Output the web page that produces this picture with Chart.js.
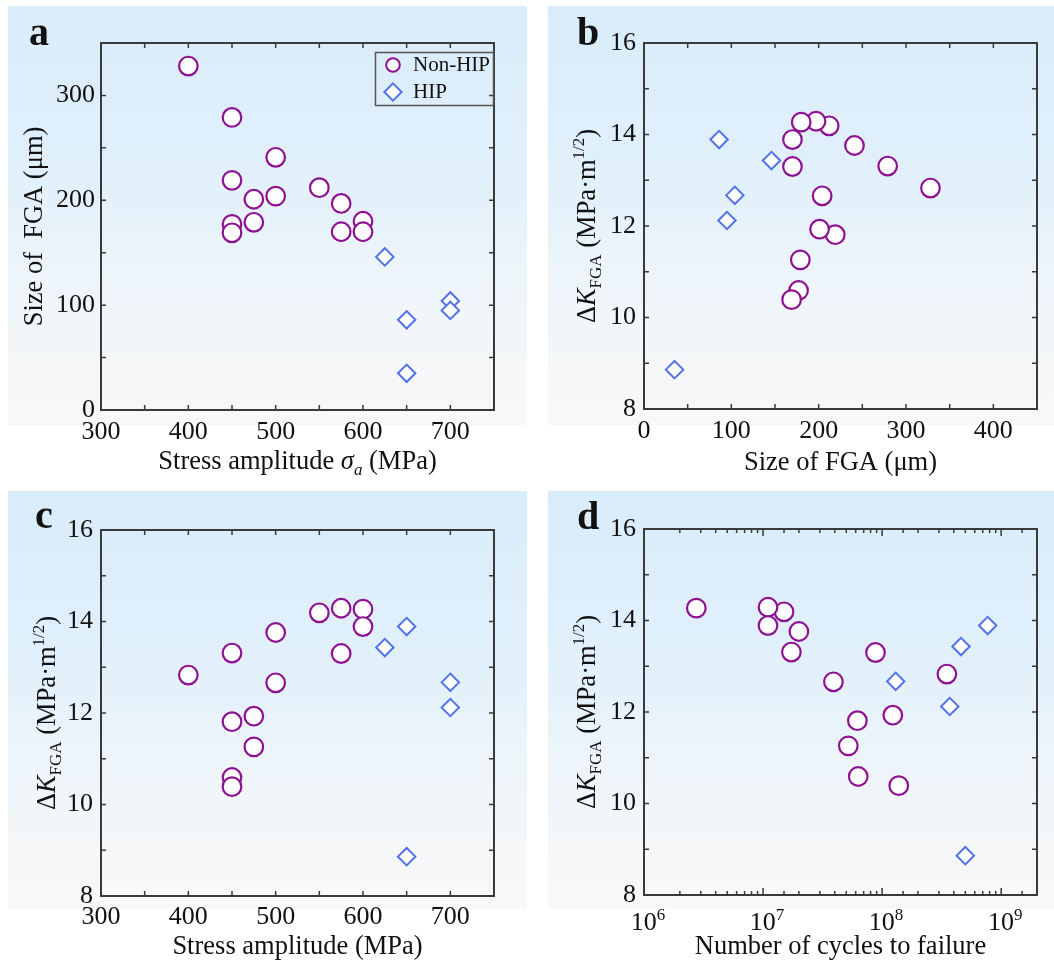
<!DOCTYPE html>
<html>
<head>
<meta charset="utf-8">
<script src="https://cdn.jsdelivr.net/npm/chart.js@4.4.1/dist/chart.umd.min.js"></script>
<style>
body{margin:0;background:#fff;width:1054px;height:962px;position:relative;overflow:hidden}
.bg{position:absolute;background:linear-gradient(#d9ecf9 0%,#e1f0fb 40%,#edf5fa 65%,#f6f7f8 88%,#f8f8f8 100%)}
canvas{position:absolute}
</style>
</head>
<body>
<div class="bg" style="left:8px;top:6px;width:519px;height:419px"></div>
<div class="bg" style="left:548px;top:6px;width:506px;height:419px"></div>
<div class="bg" style="left:8px;top:491px;width:519px;height:418px"></div>
<div class="bg" style="left:548px;top:491px;width:506px;height:418px"></div>
<canvas id="chartA" width="527" height="481" style="left:0;top:0"></canvas>
<canvas id="chartB" width="527" height="481" style="left:527px;top:0"></canvas>
<canvas id="chartC" width="527" height="481" style="left:0;top:481px"></canvas>
<canvas id="chartD" width="527" height="481" style="left:527px;top:481px"></canvas>
<script>
// Non-HIP specimens, same order in every array
const nonHipStress = [400,450,500,450,550,475,500,575,450,475,600,450,575,600];
const nonHipSize   = [328,279,241,219,212,201,204,197,177,179,180,169,170,170];
const nonHipDK     = [12.83,13.31,13.76,11.81,14.19,11.93,12.66,14.29,10.59,11.26,14.27,10.39,13.30,13.89];
const nonHipCycles = [3.5e8,1.73e7,2.0e7,6.2e7,1.5e7,1.23e8,3.9e7,1.1e7,6.3e7,5.2e7,2.75e6,1.38e8,8.8e7,1.1e7];
// HIP specimens
const hipStress = [625,650,650,700,700];
const hipSize   = [146,86,35,104,95];
const hipDK     = [13.43,13.89,8.86,12.67,12.12];
const hipCycles = [4.6e8,7.7e8,5.0e8,1.3e8,3.7e8];
// tick labels
const stressTicks = [300,400,500,600,700];
const sizeTicksA = [0,100,200,300];
const sizeTicksB = [0,100,200,300,400];
const dkTicks = [8,10,12,14,16];
const cycleTicks = [1e6,1e7,1e8,1e9];

const FONT = "'Liberation Serif','Times New Roman',serif";
const PURPLE = '#8e1191';
const BLUE = '#5272e8';
const INK = '#111';
Chart.defaults.font.family = FONT;
Chart.defaults.font.size = 26;
Chart.defaults.color = INK;

const dkTitle = [{t:'\u0394'},{t:'K',i:1},{t:'FGA',sub:1},{t:' (MPa\u00b7m'},{t:'1/2',sup:1},{t:')'}];

function pts(xs, ys){ return xs.map((x,k)=>({x:x,y:ys[k]})); }

function drawRich(ctx, segs, size, x, y, rotate){
  const fontOf = s => (s.i?'italic ':'') + ((s.sub||s.sup)?Math.round(size*0.64):size) + 'px ' + FONT;
  let w = 0;
  segs.forEach(s=>{ ctx.font = fontOf(s); s.w = ctx.measureText(s.t).width; w += s.w; });
  ctx.save();
  ctx.translate(x,y);
  if(rotate) ctx.rotate(-Math.PI/2);
  ctx.textAlign = 'left';
  ctx.textBaseline = 'alphabetic';
  ctx.fillStyle = INK;
  let cx = -w/2;
  segs.forEach(s=>{
    ctx.font = fontOf(s);
    const dy = s.sub ? size*0.24 : (s.sup ? -size*0.4 : 0);
    ctx.fillText(s.t, cx, dy);
    cx += s.w;
  });
  ctx.restore();
}

// frame, inward ticks on all four sides, titles, panel letter
function decor(cfg){
  return {
    id:'decor',
    beforeDatasetsDraw(chart){
      const ctx = chart.ctx, a = chart.chartArea;
      ctx.save();
      ctx.strokeStyle = '#3a3a3a';
      ctx.lineWidth = 1.5;
      const xs = chart.scales.x, ys = chart.scales.y;
      xs.ticks.forEach(t=>{
        const p = xs.getPixelForValue(t.value);
        if(p <= a.left+1 || p >= a.right-1) return;
        const len = t.label !== '' ? cfg.major : cfg.minor;
        ctx.beginPath();
        ctx.moveTo(p, a.bottom); ctx.lineTo(p, a.bottom-len);
        ctx.moveTo(p, a.top); ctx.lineTo(p, a.top+len);
        ctx.stroke();
      });
      ys.ticks.forEach(t=>{
        const p = ys.getPixelForValue(t.value);
        if(p <= a.top+1 || p >= a.bottom-1) return;
        ctx.beginPath();
        ctx.moveTo(a.left, p); ctx.lineTo(a.left+5, p);
        ctx.moveTo(a.right, p); ctx.lineTo(a.right-5, p);
        ctx.stroke();
      });
      ctx.lineWidth = 2;
      ctx.strokeRect(a.left, a.top, a.width, a.height);
      ctx.restore();
    },
    afterDraw(chart){
      const ctx = chart.ctx, a = chart.chartArea;
      if(cfg.powerLabels){
        // decade labels 10^n with a real superscript
        const xs = chart.scales.x;
        xs.ticks.forEach(t=>{
          if(t.label === '') return;
          const n = String(Math.round(Math.log10(t.value)));
          drawRich(ctx, [{t:'10'},{t:n,sup:1}], 26, xs.getPixelForValue(t.value)+4, cfg.powerBase, false);
        });
      }
      drawRich(ctx, cfg.xTitle, 26.5, (a.left+a.right)/2, cfg.xBase, false);
      drawRich(ctx, cfg.yTitle, 26.5, cfg.yBase, (a.top+a.bottom)/2, true);
      ctx.save();
      ctx.font = 'bold 40px ' + FONT;
      ctx.fillStyle = INK;
      ctx.fillText(cfg.letter, cfg.lx, cfg.ly);
      ctx.restore();
      if(cfg.legend){
        ctx.save();
        ctx.strokeStyle = '#555';
        ctx.lineWidth = 1.5;
        ctx.strokeRect(375.5, 52.5, 118, 53);
        ctx.lineWidth = 2;
        ctx.fillStyle = '#fff';
        ctx.strokeStyle = PURPLE;
        Chart.helpers.drawPoint(ctx, {pointStyle:'circle', radius:6.8, borderWidth:2}, 393, 65);
        ctx.fillStyle = '#fff';
        ctx.strokeStyle = BLUE;
        Chart.helpers.drawPoint(ctx, {pointStyle:'rectRot', radius:8.6, borderWidth:2}, 393, 92);
        ctx.fillStyle = INK;
        ctx.font = '21px ' + FONT;
        ctx.fillText('Non-HIP', 413, 71);
        ctx.fillText('HIP', 413, 98);
        ctx.restore();
      }
    }
  };
}

function makeChart(id, o){
  const W = 527, H = 481;
  new Chart(document.getElementById(id), {
    type:'scatter',
    data:{datasets:[
      {label:'Non-HIP', data:o.nonHip, pointStyle:'circle', pointRadius:9.3, pointHoverRadius:9.3,
       borderWidth:2.2, borderColor:PURPLE, backgroundColor:'#fff'},
      {label:'HIP', data:o.hip, pointStyle:'rectRot', pointRadius:8.7, pointHoverRadius:8.7,
       borderWidth:2, borderColor:BLUE, backgroundColor:'#fff'}
    ]},
    options:{
      responsive:false,
      animation:false,
      events:[],
      layout:{padding:{left:0, top:o.area[1], right:W-o.area[2], bottom:0}},
      plugins:{legend:{display:false}, tooltip:{enabled:false}},
      scales:{
        x:Object.assign({
          grid:{display:false, drawTicks:false},
          border:{display:false},
          afterFit(s){ s.height = H - o.area[3]; }
        }, o.x),
        y:Object.assign({
          grid:{display:false, drawTicks:false},
          border:{display:false},
          afterFit(s){ s.width = o.area[0]; }
        }, o.y)
      }
    },
    plugins:[decor(o.decor)]
  });
}

function linTicks(step, labels, pad){
  return {stepSize:step, autoSkip:false, maxRotation:0, padding:pad,
          callback:v => labels.includes(v) ? String(v) : ''};
}

const dkAxis = {type:'linear', min:8, max:16, ticks:linTicks(1, dkTicks, 8)};

makeChart('chartA', {
  area:[101,43,494,410],
  nonHip:pts(nonHipStress, nonHipSize), hip:pts(hipStress, hipSize),
  x:{type:'linear', min:300, max:750, ticks:linTicks(50, stressTicks, 7)},
  y:{type:'linear', min:0, max:350, ticks:linTicks(50, sizeTicksA, 6)},
  decor:{major:5, minor:5, letter:'a', lx:29, ly:45, xBase:469, yBase:42, legend:true,
    xTitle:[{t:'Stress amplitude '},{t:'\u03c3',i:1},{t:'a',i:1,sub:1},{t:' (MPa)'}],
    yTitle:[{t:'Size of  FGA (\u03bcm)'}]}
});

makeChart('chartB', {
  area:[117,43,510,409],
  nonHip:pts(nonHipSize, nonHipDK), hip:pts(hipSize, hipDK),
  x:{type:'linear', min:0, max:450, ticks:linTicks(50, sizeTicksB, 7)},
  y:dkAxis,
  decor:{major:5, minor:5, letter:'b', lx:50, ly:45, xBase:470, yBase:68,
    xTitle:[{t:'Size of FGA (\u03bcm)'}], yTitle:dkTitle}
});

makeChart('chartC', {
  area:[101,49,494,415],
  nonHip:pts(nonHipStress, nonHipDK), hip:pts(hipStress, hipDK),
  x:{type:'linear', min:300, max:750, ticks:linTicks(50, stressTicks, 6)},
  y:dkAxis,
  decor:{major:5, minor:5, letter:'c', lx:35, ly:47, xBase:473, yBase:55,
    xTitle:[{t:'Stress amplitude (MPa)'}], yTitle:dkTitle}
});

makeChart('chartD', {
  area:[117,48,510,414],
  nonHip:pts(nonHipCycles, nonHipDK), hip:pts(hipCycles, hipDK),
  x:{type:'logarithmic', min:1e6, max:2e9,
     // labels kept in the scale for layout, painted by the decor plugin with superscripts
     ticks:{autoSkip:false, maxRotation:0, padding:11, color:'rgba(0,0,0,0)',
       callback:v => cycleTicks.includes(v) ? '10' + Math.round(Math.log10(v)) : ''}},
  y:dkAxis,
  decor:{major:7, minor:4, letter:'d', lx:50, ly:48, xBase:473, yBase:68, powerLabels:true, powerBase:449,
    xTitle:[{t:'Number of cycles to failure'}], yTitle:dkTitle}
});
</script>
</body>
</html>
